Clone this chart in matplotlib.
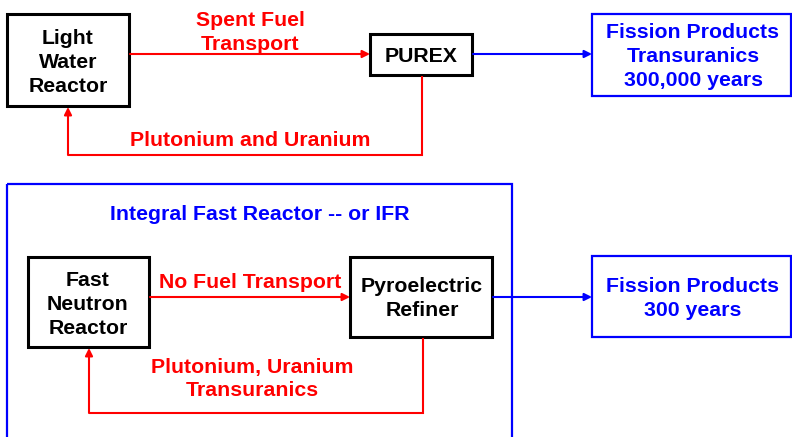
"""Flow diagram: LWR + PUREX loop versus the Integral Fast Reactor loop."""
import matplotlib

matplotlib.use("Agg")

import matplotlib.pyplot as plt
from matplotlib.patches import Rectangle

RED = "#ff0000"
BLUE = "#0000ff"
INK = "#000000"

# Labels (the diagram's "data")
LWR_LABEL = ["Light", "Water", "Reactor"]
PUREX_LABEL = ["PUREX"]
WASTE_TOP_LABEL = ["Fission Products", "Transuranics", "300,000 years"]
SPENT_LABEL = ["Spent Fuel", "Transport"]
RETURN_TOP_LABEL = ["Plutonium and Uranium"]
IFR_TITLE = ["Integral Fast Reactor -- or IFR"]
FNR_LABEL = ["Fast", "Neutron", "Reactor"]
PYRO_LABEL = ["Pyroelectric", "Refiner"]
NOFUEL_LABEL = ["No Fuel Transport"]
RETURN_BOT_LABEL = ["Plutonium, Uranium", "Transuranics"]
WASTE_BOT_LABEL = ["Fission Products", "300 years"]

W, H = 792, 437
DPI = 100
FS = 15.3
LINE = 24.0
CAP = 7.5  # half cap height in px


def box(ax, x0, y0, x1, y1, color, lw):
    ax.add_patch(Rectangle((x0, y0), x1 - x0, y1 - y0, fill=False,
                           edgecolor=color, linewidth=lw, zorder=2))


def label(ax, lines, cx, cy_first, color):
    for i, s in enumerate(lines):
        ax.text(cx, cy_first + i * LINE + CAP, s, ha="center", va="baseline",
                fontsize=FS, fontweight="bold", color=color,
                family=["Liberation Sans", "DejaVu Sans"], zorder=4)


def arrow(ax, pts, color, lw=1.5):
    xs, ys = zip(*pts)
    ax.plot(xs[:-1], ys[:-1], color=color, linewidth=lw,
            solid_capstyle="butt", solid_joinstyle="miter", zorder=3)
    ax.annotate("", xy=pts[-1], xytext=pts[-2], zorder=3,
                arrowprops=dict(arrowstyle="-|>", color=color, linewidth=lw,
                                shrinkA=0, shrinkB=0, mutation_scale=11))


fig = plt.figure(figsize=(W / DPI, H / DPI), dpi=DPI)
ax = fig.add_axes([0, 0, 1, 1])
ax.set_xlim(0, W)
ax.set_ylim(H, 0)
ax.axis("off")

# --- top row: LWR / PUREX ---
box(ax, 7, 14, 129, 106, INK, 2.2)
label(ax, LWR_LABEL, 68, 36, INK)
box(ax, 370, 34, 472, 75, INK, 2.2)
label(ax, PUREX_LABEL, 421, 55, INK)
box(ax, 592, 14, 791, 96, BLUE, 1.6)
label(ax, WASTE_TOP_LABEL, 693, 31, BLUE)

arrow(ax, [(130, 54), (370, 54)], RED)
label(ax, SPENT_LABEL, 250, 18, RED)
arrow(ax, [(473, 54), (592, 54)], BLUE)
arrow(ax, [(422, 76), (422, 155), (68, 155), (68, 107)], RED)
label(ax, RETURN_TOP_LABEL, 250, 138, RED)

# --- bottom row: IFR ---
box(ax, 7, 184, 512, 445, BLUE, 1.6)
label(ax, IFR_TITLE, 260, 213, BLUE)
box(ax, 28, 257, 149, 347, INK, 2.2)
label(ax, FNR_LABEL, 88, 278, INK)
box(ax, 350, 257, 492, 337, INK, 2.2)
label(ax, PYRO_LABEL, 422, 285, INK)
box(ax, 592, 256, 791, 337, BLUE, 1.6)
label(ax, WASTE_BOT_LABEL, 693, 285, BLUE)

arrow(ax, [(150, 297), (350, 297)], RED)
label(ax, NOFUEL_LABEL, 250, 280, RED)
arrow(ax, [(493, 297), (592, 297)], BLUE)
arrow(ax, [(423, 338), (423, 413), (89, 413), (89, 348)], RED)
label(ax, RETURN_BOT_LABEL, 252, 365, RED)

fig.savefig("out.png", dpi=DPI)
